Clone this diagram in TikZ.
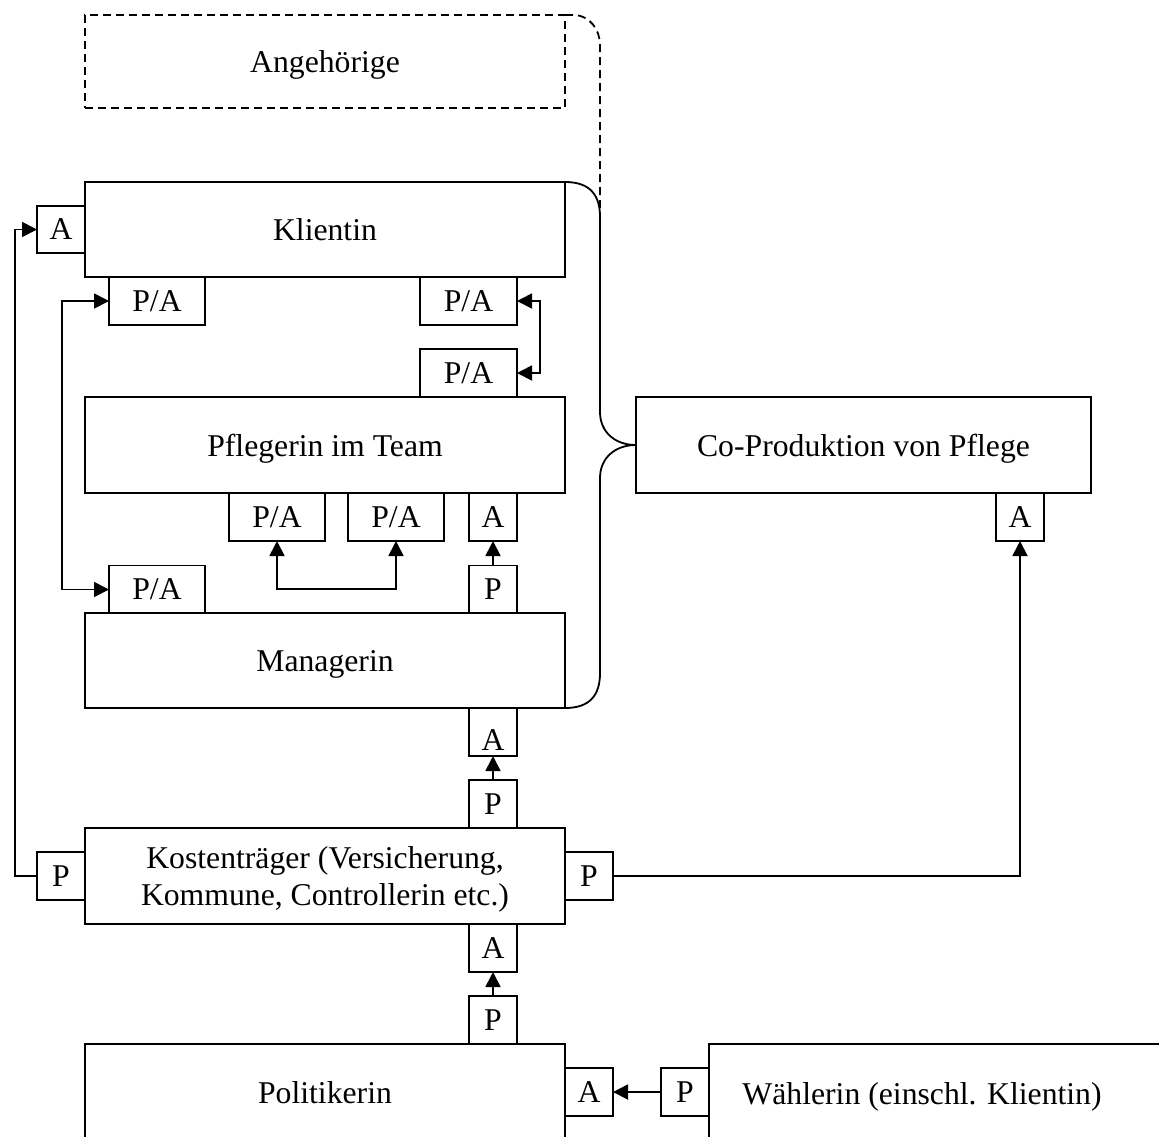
\documentclass[tikz,border=0pt]{standalone}
\usepackage{fontspec}
\setmainfont{Liberation Serif}
\usetikzlibrary{arrows.meta,calc}

\tikzset{
  base/.style={draw, line width=0.9pt, inner sep=0pt, outer sep=0pt,
    font=\fontsize{15.85}{18.5}\selectfont, text depth=0pt},
  mainbox/.style={base, minimum width=240pt, minimum height=48pt, align=center},
  tag/.style={base, minimum width=24pt, minimum height=24pt},
  widetag/.style={base, minimum width=48pt, minimum height=24pt},
  tip/.style={Triangle[length=7.5pt,width=7.5pt]},
  link/.style={line width=0.9pt, -{Triangle[length=7.5pt,width=7.5pt]}},
  duallink/.style={line width=0.9pt, {Triangle[length=7.5pt,width=7.5pt]}-{Triangle[length=7.5pt,width=7.5pt]}},
  bracket/.style={line width=0.9pt},
  dashy/.style={line width=0.9pt, dash pattern=on 4pt off 2.5pt}
}

\begin{document}
\begin{tikzpicture}[x=0.5pt, y=-0.5pt]
  \useasboundingbox (0,0) rectangle (1159,1136);
  \clip (0,0) rectangle (1159,1136);

  % relatives (dashed)
  \node[mainbox, dashy, minimum height=46.5pt] (ang) at (325,61.5) {Angehörige};

  % client
  \node[mainbox, minimum height=47.5pt] (kli) at (325,229.5) {Klientin};
  \node[tag, minimum height=23.5pt] (kliA) at (61,229.5) {A};
  \node[widetag] (kliPAl) at (157,301) {P/A};
  \node[widetag, minimum width=48.5pt] (kliPAr) at (468.5,301) {P/A};

  % carer in the team
  \node[widetag, minimum width=48.5pt] (pflPA) at (468.5,373) {P/A};
  \node[mainbox] (pfl) at (325,445) {Pflegerin im Team};
  \node[widetag] (pflPAl) at (277,517) {P/A};
  \node[widetag] (pflPAr) at (396,517) {P/A};
  \node[tag] (pflA) at (493,517) {A};

  % manager
  \node[widetag] (manPA) at (157,589.5) {P/A};
  \node[tag] (manP) at (493,589.5) {P};
  \node[mainbox, minimum height=47.5pt] (man) at (325,660.5) {Managerin};
  \node[tag, text height=18pt] (manA) at (493,732) {A};

  % payers
  \node[tag] (kosP) at (493,804) {P};
  \node[mainbox] (kos) at (325,876) {Kostenträger (Versicherung,\\Kommune, Controllerin etc.)};
  \node[tag] (kosPl) at (61,876) {P};
  \node[tag] (kosPr) at (589,876) {P};
  \node[tag] (kosA) at (493,948) {A};

  % politics
  \node[tag] (polP) at (493,1020) {P};
  \node[mainbox, anchor=north] (pol) at (325,1044) {Politikerin};
  \node[tag] (polA) at (589,1092) {A};
  \node[tag] (waeP) at (685,1092) {P};
  \node[mainbox, anchor=north west] (wae) at (709,1044) {};
  \node[font=\fontsize{15.85}{18.5}\selectfont, text depth=0pt, inner sep=0pt] (waeT) at (922,1093) {Wählerin (einschl. Klientin)};

  % co-production
  \node[mainbox, minimum width=227.5pt] (cop) at (863.5,445) {Co-Produktion von Pflege};
  \node[tag] (copA) at (1020,517) {A};

  % bracket joining client, carer and manager to the co-production
  \draw[bracket] (kli.north east) .. controls +(25,0) and +(0,-22) .. ++(35,35)
    -- ($(cop.west)+(-36,-33)$) .. controls +(0,20) and +(-21,0) .. (cop.west)
    .. controls +(-21,0) and +(0,-20) .. ($(cop.west)+(-36,33)$)
    -- ($(man.south east)+(35,-35)$) .. controls +(0,22) and +(25,0) .. (man.south east);

  % relatives joining the bracket
  \draw[dashy] (ang.north east) -- ++(8,0) .. controls +(17,0) and +(0,-15) .. ++(27,30)
    -- ($(kli.north east)+(35,35)$);

  % principal-agent links
  \draw[link] (kosPl.west) -- ++(-22,0) |- (kliA.west);
  \draw[duallink] (kliPAl.west) -- ++(-47,0) |- (manPA.west);
  \draw[duallink] (kliPAr.east) -- ++(23,0) |- (pflPA.east);
  \draw[duallink] (pflPAl.south) -- ++(0,48) -| (pflPAr.south);
  \draw[link] (manP.north) -- (pflA.south);
  \draw[link] (kosP.north) -- (manA.south);
  \draw[link] (polP.north) -- (kosA.south);
  \draw[link] (kosPr.east) -| (copA.south);
  \draw[link] (waeP.west) -- (polA.east);
\end{tikzpicture}
\end{document}
